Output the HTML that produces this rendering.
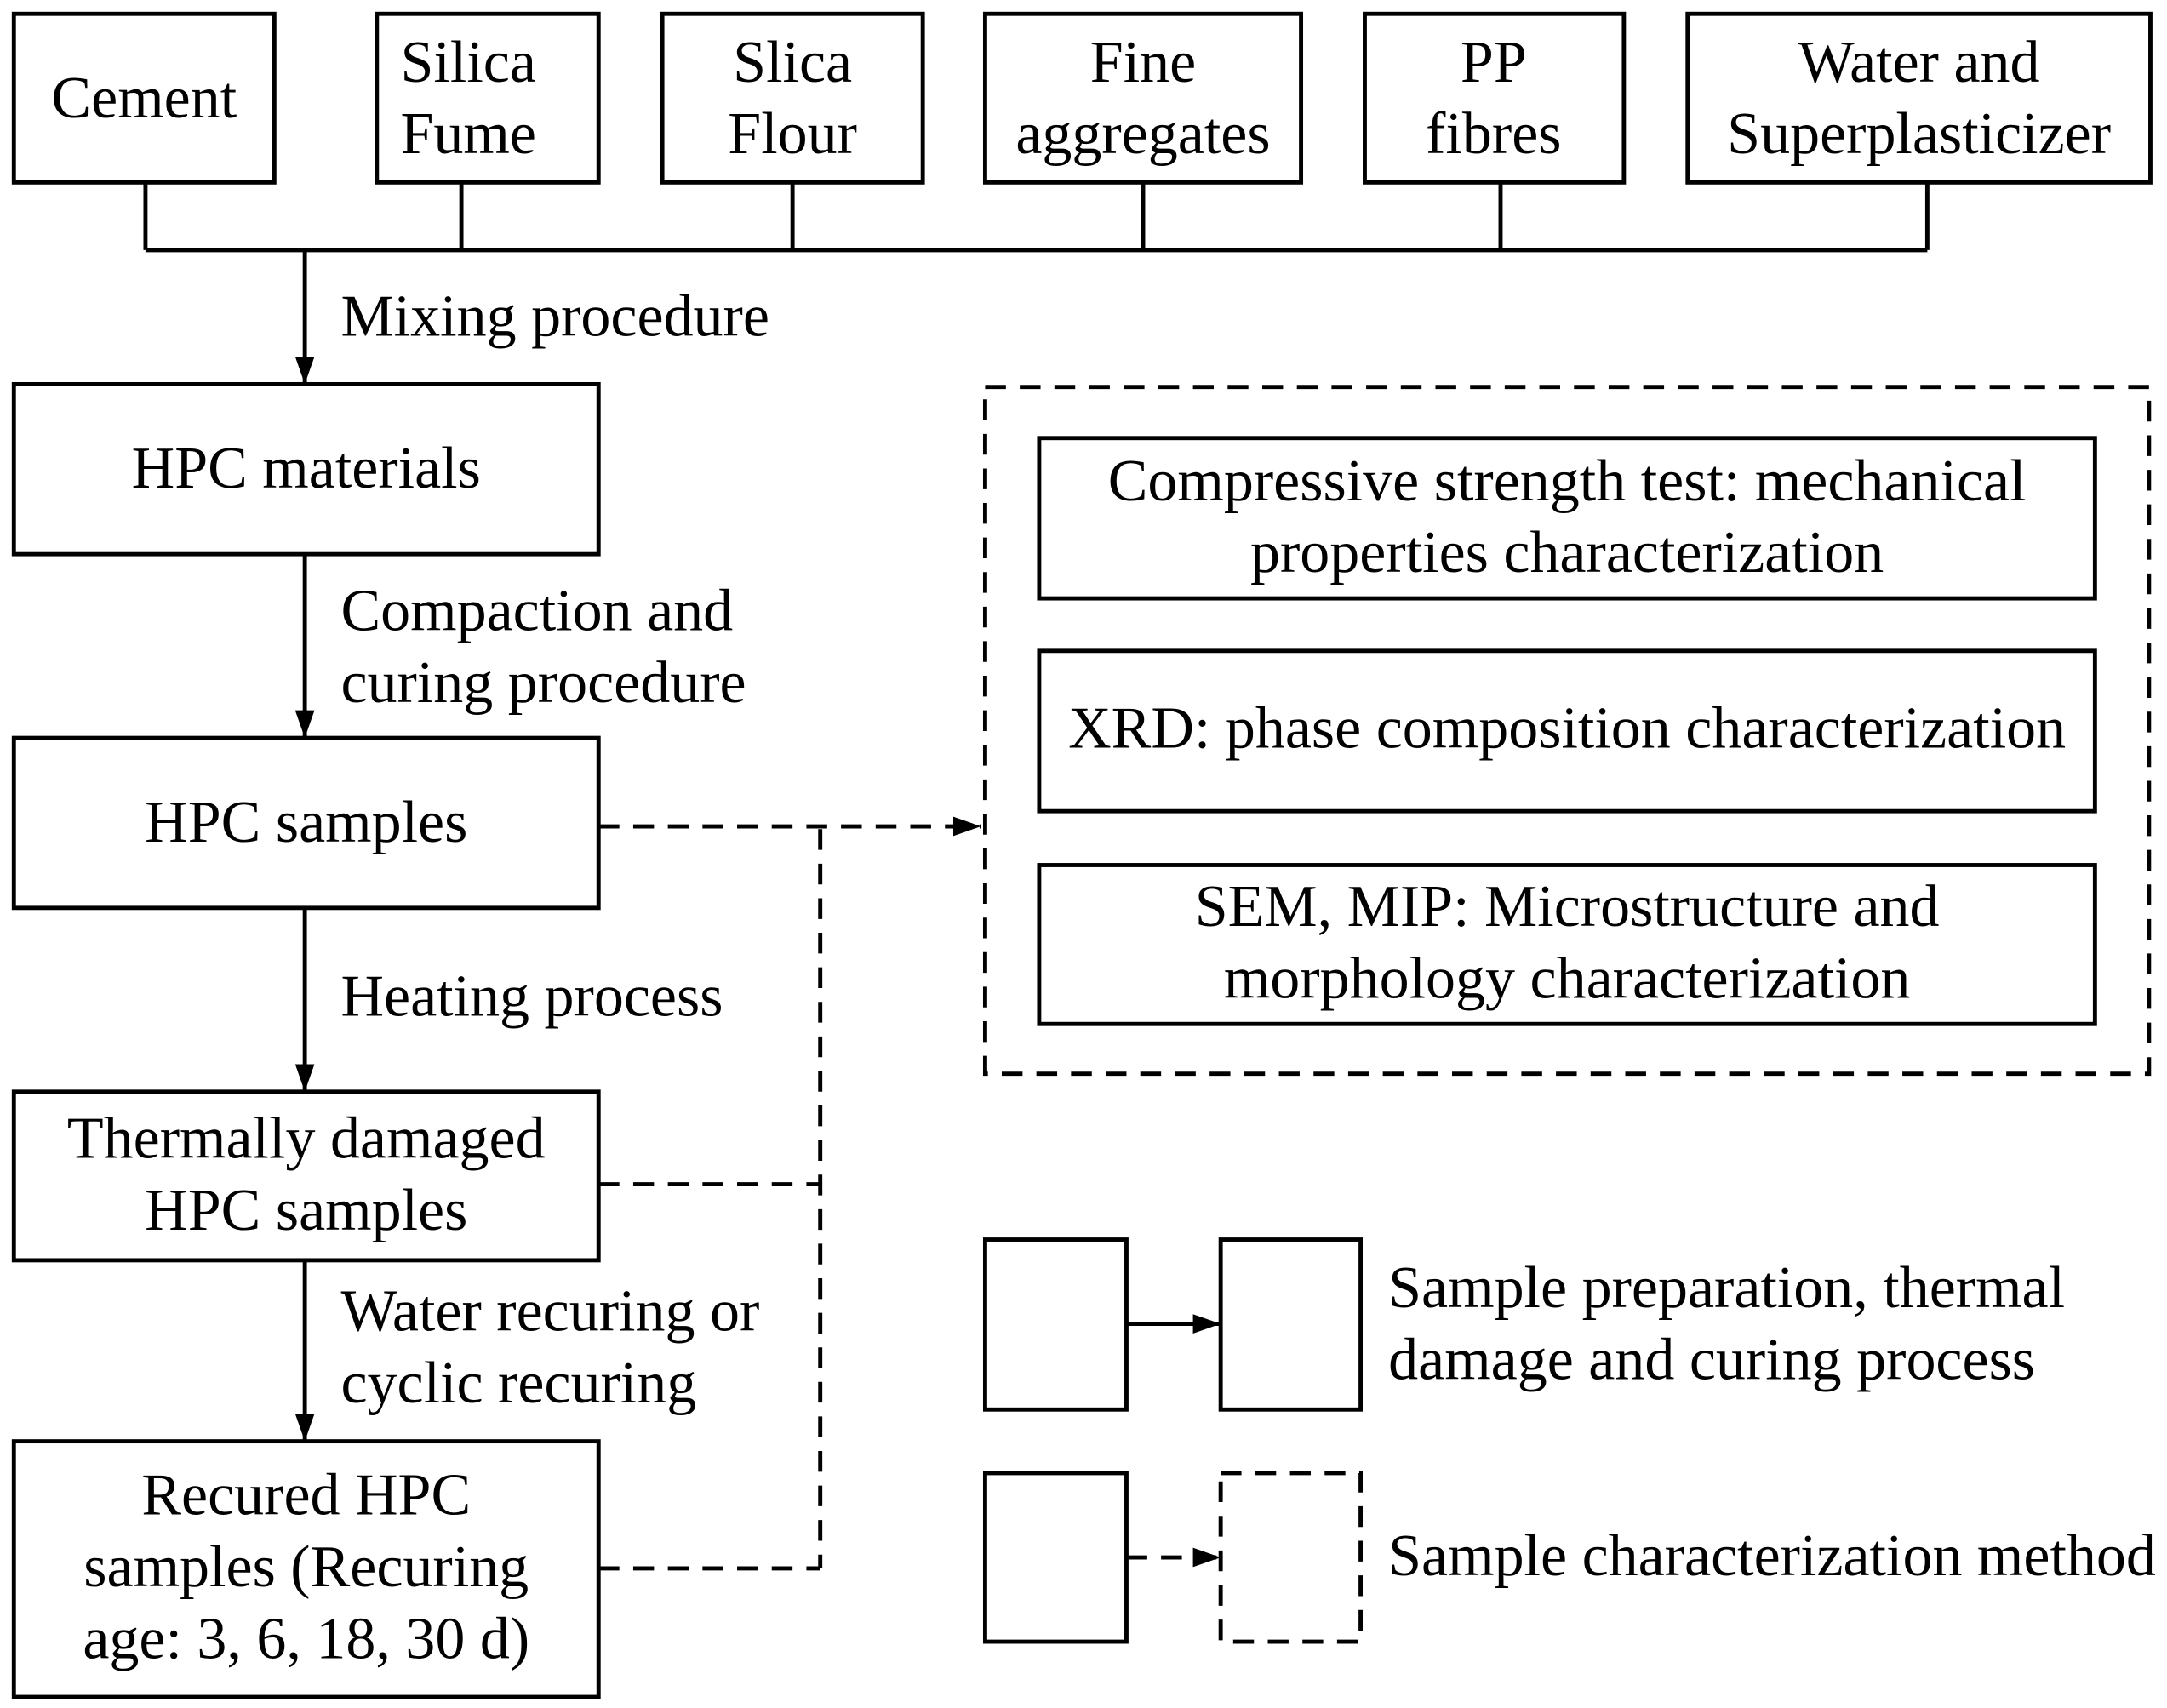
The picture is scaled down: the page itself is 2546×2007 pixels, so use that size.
<!DOCTYPE html>
<html><head><meta charset="utf-8"><style>html,body{margin:0;padding:0;background:#fff}svg{display:block}</style></head>
<body>
<svg width="2546" height="2007" viewBox="0 0 1564 1236" preserveAspectRatio="none" xmlns="http://www.w3.org/2000/svg" font-family="'Liberation Serif', 'Times New Roman', serif" font-size="43" text-anchor="middle">
<defs>
<marker id="a" markerWidth="20" markerHeight="20" refX="20" refY="10" orient="auto" markerUnits="userSpaceOnUse" viewBox="0 0 20 20"><path d="M0,3 L20,10 L0,17 z" fill="#000"/></marker>
</defs>
<g fill="none" stroke="#000" stroke-width="3">
<rect x="10" y="10" width="188" height="122"/>
<rect x="272" y="10" width="160" height="122"/>
<rect x="478" y="10" width="188" height="122"/>
<rect x="711" y="10" width="228" height="122"/>
<rect x="985" y="10" width="187" height="122"/>
<rect x="1218" y="10" width="334" height="122"/>
<path d="M105,132V181M333,132V181M572,132V181M825,132V181M1083,132V181M1391,132V181M105,181H1391"/>
<rect x="10" y="278" width="422" height="123"/>
<rect x="10" y="534" width="422" height="123"/>
<rect x="10" y="790" width="422" height="122"/>
<rect x="10" y="1043" width="422" height="185"/>
<rect x="750" y="317" width="762" height="116"/>
<rect x="750" y="471" width="762" height="116"/>
<rect x="750" y="626" width="762" height="115"/>
<rect x="711" y="897" width="102" height="123"/>
<rect x="881" y="897" width="101" height="123"/>
<rect x="711" y="1066" width="102" height="122"/>
</g>
<g stroke="#000" stroke-width="3" fill="none">
<path d="M220,181V278" marker-end="url(#a)"/>
<path d="M220,401V534" marker-end="url(#a)"/>
<path d="M220,657V790" marker-end="url(#a)"/>
<path d="M220,912V1043" marker-end="url(#a)"/>
<path d="M813,958H881" marker-end="url(#a)"/>
</g>
<g stroke="#000" stroke-width="3" fill="none" stroke-dasharray="15,10">
<path d="M432,598H708" marker-end="url(#a)"/>
<path d="M592,600V1135M432,857H592M432,1135H592"/>
<rect x="711" y="280" width="840" height="497"/>
<rect x="881" y="1066" width="101" height="122"/>
<path d="M813,1127H881" marker-end="url(#a)"/>
</g>
<g fill="#000">
<text x="104" y="85">Cement</text>
<text x="338" y="59">Silica</text><text x="338" y="111">Fume</text>
<text x="572" y="59">Slica</text><text x="572" y="111">Flour</text>
<text x="825" y="59">Fine</text><text x="825" y="111">aggregates</text>
<text x="1078" y="59">PP</text><text x="1078" y="111">fibres</text>
<text x="1385" y="59">Water and</text><text x="1385" y="111">Superplasticizer</text>
<text x="221" y="353">HPC materials</text>
<text x="221" y="609">HPC samples</text>
<text x="221" y="838">Thermally damaged</text><text x="221" y="890">HPC samples</text>
<text x="221" y="1096">Recured HPC</text><text x="221" y="1148">samples (Recuring</text><text x="221" y="1200">age: 3, 6, 18, 30 d)</text>
<text x="1131" y="362">Compressive strength test: mechanical</text>
<text x="1131" y="414">properties characterization</text>
<text x="1131" y="541">XRD: phase composition characterization</text>
<text x="1131" y="670">SEM, MIP: Microstructure and</text>
<text x="1131" y="722">morphology characterization</text>
<g text-anchor="start">
<text x="246" y="243">Mixing procedure</text>
<text x="246" y="456">Compaction and</text><text x="246" y="508">curing procedure</text>
<text x="246" y="735">Heating process</text>
<text x="246" y="963">Water recuring or</text><text x="246" y="1015">cyclic recuring</text>
<text x="1002" y="946">Sample preparation, thermal</text><text x="1002" y="998">damage and curing process</text>
<text x="1002" y="1140">Sample characterization method</text>
</g>
</g>
</svg>
</body></html>
